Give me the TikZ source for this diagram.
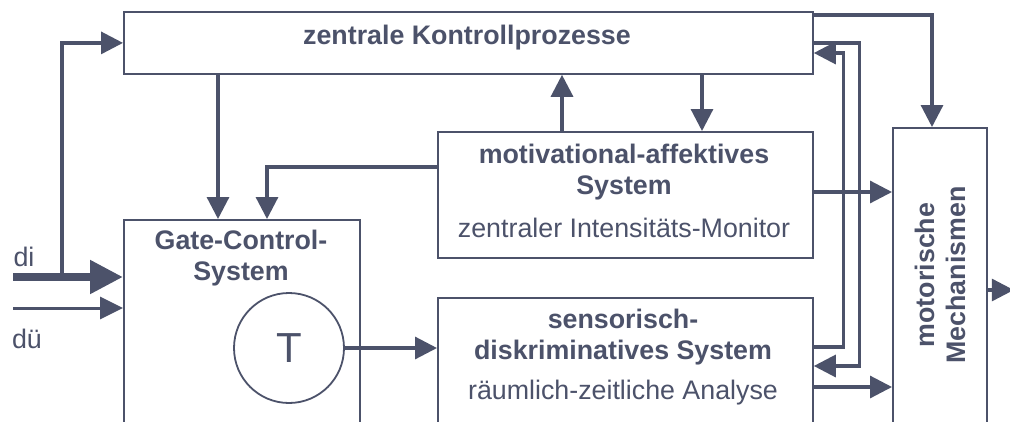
\documentclass[tikz,border=0pt]{standalone}
\usepackage{fontspec}
\setmainfont{Liberation Sans}
\usetikzlibrary{arrows.meta,calc}
\definecolor{ink}{RGB}{76,82,106}
\begin{document}
\begin{tikzpicture}[x=1pt,y=-1pt,
  box/.style={draw=ink, line width=1.8pt, inner sep=0pt, anchor=north west},
  con/.style={draw=ink, line width=3.2pt, -{Triangle[length=22pt,width=22pt]}},
  thincon/.style={draw=ink, line width=3pt, -{Triangle[length=23pt,width=22pt]}},
  thickcon/.style={draw=ink, line width=8pt, -{Triangle[length=33pt,width=32pt]}},
  txt/.style={text=ink, inner sep=0pt, align=center, font=\fontsize{26.8}{30}\selectfont},
  btxt/.style={text=ink, inner sep=0pt, align=center, font=\fontsize{26.8}{31}\selectfont\bfseries}
]
\useasboundingbox (0,0) rectangle (1010,421);
\clip (0,0) rectangle (1010,421);
\fill[white] (0,0) rectangle (1010,421);

% boxes
\node[box, minimum width=689pt, minimum height=62pt] (top) at (123,11) {};
\node[box, minimum width=375pt, minimum height=126pt] (motiv) at (437,131) {};
\node[box, minimum width=375pt, minimum height=160pt] (sens) at (437,297) {};
\node[box, minimum width=236pt, minimum height=240pt] (gate) at (123,219) {};
\node[box, minimum width=94pt, minimum height=320pt] (motor) at (892,127) {};
\node[draw=ink, circle, line width=1.8pt, minimum size=110pt, inner sep=0pt,
      text=ink, font=\fontsize{42}{42}\selectfont] (T) at (289,348) {T};

% texts
\node[btxt] (topT) at (467,38) {zentrale Kontrollprozesse};
\node[btxt] (motivT) at (624,172) {motivational-affektives\\System};
\node[txt] (motivS) at (624,228) {zentraler Intensitäts-Monitor};
\node[btxt] (sensT) at (623,337) {sensorisch-\\diskriminatives System};
\node[txt] (sensS) at (623,393) {räumlich-zeitliche Analyse};
\node[btxt] (gateT) at (241,258) {Gate-Control-\\System};
\node[btxt, rotate=90] (motorT) at (940,275) {motorische\\Mechanismen};
\node[txt] (di) at (24,257) {di};
\node[txt] (du) at (27,339) {dü};

% inputs
\coordinate (diIn) at (13,277);
\coordinate (duIn) at (13,308);
\coordinate (branch) at (62,277);
\draw[thickcon] (diIn) -- (gate.west |- diIn);
\draw[thincon] (duIn) -- (gate.west |- duIn);
\draw[con] (branch) |- (top.west);

% central control to gate control and back
\draw[con] ($(top.south west)+(95,0)$) -- ($(gate.north west)+(95,0)$);
\draw[con] ($(motiv.north west)+(0,36)$) -| ($(gate.north west)+(144,0)$);

% central control <-> motivational system
\path ($(motiv.north west)+(125,0)$) coordinate (mUp)
      ($(top.south west)+(579,0)$) coordinate (mDown);
\draw[con] (mUp) -- (mUp |- top.south);
\draw[con] (mDown) -- (mDown |- motiv.north);

% gate control to sensory system
\draw[con] (T.east) -- (T.east -| sens.west);

% central control to motor mechanisms
\draw[con] ($(top.north east)+(0,4)$) -| ($(motor.north west)+(40,0)$);

% feedback loops between central control and sensory system
\draw[con] (top.east) -- ++(46,0) |- ($(sens.north east)+(0,69)$);
\draw[con] ($(sens.north east)+(0,50)$) -- ++(30,0) |- ($(top.north east)+(0,42)$);

% motivational and sensory systems to motor mechanisms
\path ($(motiv.north east)+(0,61)$) coordinate (mm)
      ($(sens.north east)+(0,90)$) coordinate (sm)
      ($(motor.north east)+(0,163)$) coordinate (mo);
\draw[con] (mm) -- (mm -| motor.west);
\draw[con] (sm) -- (sm -| motor.west);
\draw[con] (mo) -- ++(26,0);
\end{tikzpicture}
\end{document}
